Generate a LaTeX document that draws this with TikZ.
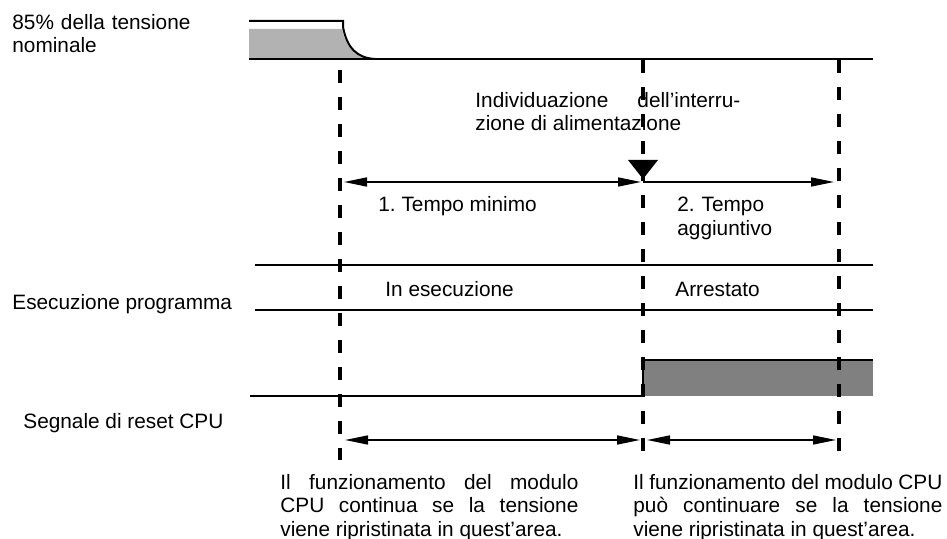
\documentclass[tikz,border=0pt]{standalone}
\usepackage{fontspec}
\setmainfont{Liberation Sans}
\usetikzlibrary{arrows.meta}
\frenchspacing

\begin{document}
\begin{tikzpicture}[
x=0.5pt, y=-0.5pt,
texts/.style = {text=black, inner sep=0pt, font=\fontsize{10.4}{11.5}\selectfont},
labeltexts/.style = {texts, anchor=base west},
blocktexts/.style = {labeltexts, align=justify, execute at begin node={\tolerance=9999 \hyphenpenalty=10000 }},
signalline/.style = {draw=black, line width=1pt},
voltshade/.style = {fill=black!30},
resetshade/.style = {fill=black!50},
cutline/.style = {draw=black, line width=1.6pt, dash pattern=on 6.5pt off 7pt},
spanarrow/.style = {draw=black, line width=0.8pt, {Triangle[length=11.5pt, width=4.5pt]}-{Triangle[length=11.5pt, width=4.5pt]}},
onearrow/.style = {draw=black, line width=0.8pt, -{Triangle[length=11.5pt, width=4.5pt]}}
]
\useasboundingbox (0,0) rectangle (947,539);

% signals
\fill[voltshade] (249,29) -- (342,29) .. controls (346,48) and (356,58) .. (375,59) -- (249,59) -- cycle;
\draw[signalline] (249,21) -- (343,21) -- (343,27) .. controls (347,48) and (357,58) .. (375,59);
\draw[signalline] (249,59) -- (873,59);
\draw[signalline] (255,265) -- (873,265);
\draw[signalline] (255,310) -- (873,310);
\fill[resetshade] (643,360) rectangle (873,396);
\draw[signalline] (250,396) -- (643,396) -- (643,360) -- (873,360);

\coordinate (t0top) at (340,70);
\coordinate (t0bot) at (340,460);
\coordinate (t1top) at (643,60);
\coordinate (t1bot) at (643,460);
\coordinate (t2top) at (839,60);
\coordinate (t2bot) at (839,460);
\coordinate (detect) at (643,160);
\coordinate (minL) at (344,182);
\coordinate (minR) at (641,182);
\coordinate (addL) at (643,182);
\coordinate (addR) at (834,182);
\coordinate (okL) at (345,440);
\coordinate (okR) at (640,440);
\coordinate (maybeL) at (647,440);
\coordinate (maybeR) at (836,440);

\draw[cutline] (t0top) -- (t0bot);
\draw[cutline] (t1top) -- (t1bot);
\draw[cutline] (t2top) -- (t2bot);

\fill (detect) -- ++(15,0) -- ++(-15,19) -- ++(-15,-19) -- cycle;
\draw[spanarrow] (minL) -- (minR);
\draw[onearrow] (addL) -- (addR);
\draw[spanarrow] (okL) -- (okR);
\draw[spanarrow] (maybeL) -- (maybeR);

\node[labeltexts, text width=100pt, align=left] (volttext) at (12,29.5) {85\% della tensione\\nominale};
\node[blocktexts, text width=132.5pt] (detecttext) at (475,108) {Individuazione dell’interru-\linebreak zione di alimentazione};
\node[labeltexts] (mintext) at (378,212) {1. Tempo minimo};
\node[labeltexts, text width=60pt, align=left, font=\fontsize{10.4}{12}\selectfont] (addtext) at (677,212) {2. Tempo\\aggiuntivo};
\node[labeltexts] (runtext) at (385,297) {In esecuzione};
\node[labeltexts] (stoptext) at (675,297) {Arrestato};
\node[labeltexts] (progtext) at (12,310) {Esecuzione programma};
\node[labeltexts] (resettext) at (23,429) {Segnale di reset CPU};
\node[blocktexts, text width=149pt, font=\fontsize{10.4}{11.75}\selectfont] (oktext) at (280,489) {Il funzionamento del modulo\linebreak CPU continua se la tensione\linebreak viene ripristinata in quest’area.};
\node[blocktexts, text width=154.5pt, font=\fontsize{10.4}{11.75}\selectfont] (maybetext) at (633,489) {Il funzionamento del modulo CPU\linebreak può continuare se la tensione\linebreak viene ripristinata in quest’area.};
\end{tikzpicture}
\end{document}
